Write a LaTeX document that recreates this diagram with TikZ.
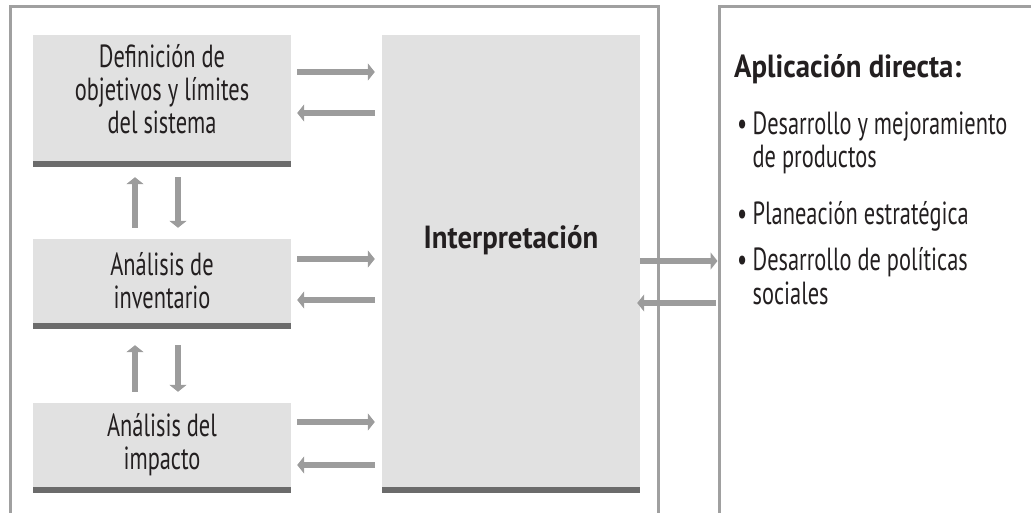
\documentclass[tikz,border=0pt]{standalone}
\usepackage{fontspec}
\setmainfont{PT Sans}[FakeStretch=0.70]
\newfontfamily\headfont{PT Sans}[FakeStretch=0.9]
\usetikzlibrary{arrows.meta,calc}
\definecolor{boxgray}{HTML}{E1E1E1}
\definecolor{bargray}{HTML}{6B6B6B}
\definecolor{framegray}{HTML}{A0A0A0}
\definecolor{arrowgray}{HTML}{9C9C9C}
\definecolor{ink}{HTML}{231F20}
\tikzset{
	stage/.style={fill=boxgray, minimum width=258pt, inner sep=0pt, align=center, text=ink, font=\fontsize{32}{33}\selectfont},
	flow/.style={draw=arrowgray, line width=5.5pt, -{Triangle[length=7pt,width=17pt]}},
	frame/.style={draw=framegray, line width=2.5pt},
	bar/.style={fill=bargray},
	item/.style={anchor=base west, inner sep=0pt, text=ink, font=\fontsize{32}{33}\selectfont},
	head/.style={text=ink, inner sep=0pt, font=\fontsize{32}{33}\selectfont\headfont\bfseries}
}
\newcommand{\bulletitem}[1]{\textbullet\,\begin{tabular}[t]{@{}l@{}}#1\end{tabular}}

\begin{document}
\begin{tikzpicture}[x=1pt, y=-1pt]
			%%%%% START %%%%%
			\useasboundingbox (0,0) rectangle (1031,513);
			
			\draw[frame] (10.7,513) -- (10.7,6.5) -- (658.5,6.5) -- (658.5,513);
			\coordinate (apl) at (719.5,6.5);
			\draw[frame] (apl |- 0,513) -- (apl) -- (1031,6.5);
			
			\node[stage, minimum height=126pt, text depth=18pt] (def) at (162,98) {Definición de\\objetivos y límites\\del sistema};
			\fill[bar] (def.south west) rectangle ([yshift=-6pt]def.south east);
			
			\node[stage, minimum height=84pt] (inv) at (162,281) {Análisis de\\inventario};
			\fill[bar] (inv.south west) rectangle ([yshift=-6pt]inv.south east);
			
			\node[stage, minimum height=84pt] (imp) at (162,445) {Análisis del\\impacto};
			\fill[bar] (imp.south west) rectangle ([yshift=-6pt]imp.south east);
			
			\node[stage, minimum height=452pt] (interp) at (511,261) {};
			\fill[bar] (interp.south west) rectangle ([yshift=-6pt]interp.south east);
			\node[head, anchor=base] (interptext) at ($(interp.center)+(0,-12)$) {Interpretación};
			
			\draw[flow] ($(def.east)+(6,-26)$) -- ($(def.east -| interp.west)+(-7,-26)$);
			\draw[flow] ($(def.east -| interp.west)+(-7,15)$) -- ($(def.east)+(6,15)$);
			\draw[flow] ($(inv.east)+(6,-22)$) -- ($(inv.east -| interp.west)+(-7,-22)$);
			\draw[flow] ($(inv.east -| interp.west)+(-7,19)$) -- ($(inv.east)+(6,19)$);
			\draw[flow] ($(imp.east)+(6,-23)$) -- ($(imp.east -| interp.west)+(-7,-23)$);
			\draw[flow] ($(imp.east -| interp.west)+(-7,20)$) -- ($(imp.east)+(6,20)$);
			
			\draw[flow] ($(inv.north)+(-27,-11)$) -- ($(def.south)+(-27,16)$);
			\draw[flow] ($(def.south)+(16,16)$) -- ($(inv.north)+(16,-11)$);
			\draw[flow] ($(imp.north)+(-27,-11)$) -- ($(inv.south)+(-27,22)$);
			\draw[flow] ($(inv.south)+(16,22)$) -- ($(imp.north)+(16,-11)$);
			
			\draw[flow] (interp.east) -- ($(interp.east -| apl)+(-2,0)$);
			\draw[flow] ($(interp.east -| apl)+(-4,42)$) -- ($(interp.east)+(-3,42)$);
			
			\node[head, anchor=base west] (title) at (734,78) {Aplicación directa:};
			\node[item] (item1) at (737,135) {\bulletitem{Desarrollo y mejoramiento\\de productos}};
			\node[item] (item2) at (737,225) {\bulletitem{Planeación estratégica}};
			\node[item] (item3) at (737,271) {\bulletitem{Desarrollo de políticas\\sociales}};
			
			%%%%% END %%%%%
\end{tikzpicture}
\end{document}
